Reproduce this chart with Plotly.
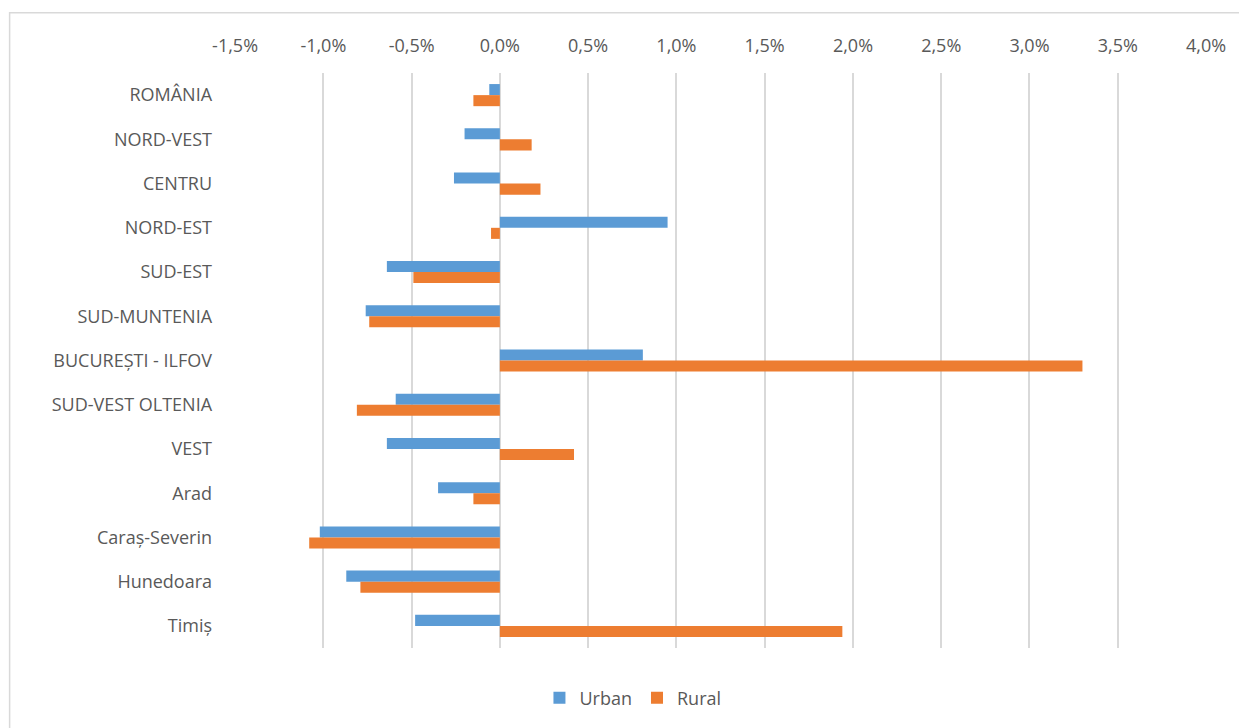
import plotly.graph_objects as go

categories = ["ROMÂNIA", "NORD-VEST", "CENTRU", "NORD-EST", "SUD-EST", "SUD-MUNTENIA",
              "BUCUREȘTI - ILFOV", "SUD-VEST OLTENIA", "VEST", "Arad", "Caraș-Severin",
              "Hunedoara", "Timiș"]
urban = [-0.06, -0.20, -0.26, 0.95, -0.64, -0.76, 0.81, -0.59, -0.64, -0.35, -1.02, -0.87, -0.48]
rural = [-0.15, 0.18, 0.23, -0.05, -0.49, -0.74, 3.30, -0.81, 0.42, -0.15, -1.08, -0.79, 1.94]
tick_vals = [-1.5, -1.0, -0.5, 0.0, 0.5, 1.0, 1.5, 2.0, 2.5, 3.0, 3.5, 4.0]
tick_text = [f"{v:.1f}%".replace(".", ",") for v in tick_vals]

font_family = "Open Sans, Noto Sans, Liberation Sans, sans-serif"
grey = "#595959"

fig = go.Figure()
fig.add_trace(go.Bar(y=categories, x=urban, orientation="h", name="Urban",
                     marker=dict(color="#5B9BD5", line=dict(width=0))))
fig.add_trace(go.Bar(y=categories, x=rural, orientation="h", name="Rural",
                     marker=dict(color="#ED7D31", line=dict(width=0))))

fig.update_layout(
    width=1239, height=720,
    margin=dict(l=1, r=0, t=4, b=0, autoexpand=False),
    paper_bgcolor="white", plot_bgcolor="white",
    barmode="group", bargap=0.5, bargroupgap=0,
    font=dict(family=font_family, size=18, color=grey),
    showlegend=True,
    legend=dict(orientation="h", x=0.504, xanchor="center", y=0.042, yanchor="middle",
                font=dict(size=18, color=grey), traceorder="normal"),
    xaxis=dict(side="top", range=[-1.5, 4.0], domain=[0.1826, 0.9669],
               tickvals=tick_vals, ticktext=tick_text, ticklabelstandoff=16,
               showgrid=True, gridcolor="#D9D9D9", gridwidth=1.5,
               zeroline=False, showline=False, ticks="", automargin=False,
               tickfont=dict(size=18, color=grey)),
    yaxis=dict(autorange="reversed", type="category", domain=[0.1117, 0.9148],
               showgrid=False, zeroline=False, automargin=False,
               showline=False, ticks="", ticklabelstandoff=22,
               tickfont=dict(size=18, color=grey)),
    shapes=[
        dict(type="line", xref="paper", yref="paper", x0=0, x1=1, y0=0.999, y1=0.999,
             line=dict(color="#D9D9D9", width=1.5)),
        dict(type="line", xref="paper", yref="paper", x0=0.0005, x1=0.0005, y0=1, y1=0,
             line=dict(color="#D9D9D9", width=1.5)),
    ],
)

fig.write_html("out.html")
